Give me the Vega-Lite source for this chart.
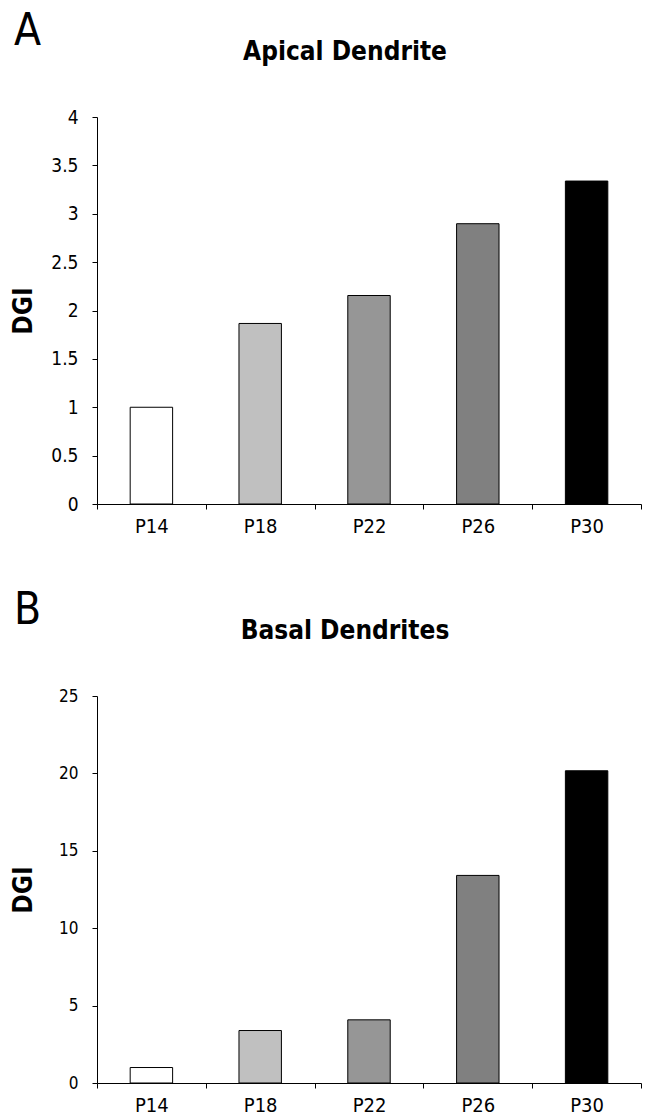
{
  "$schema": "https://vega.github.io/schema/vega-lite/v6.json",
  "padding": {"left": 10, "top": 10, "right": 5, "bottom": 0},
  "background": "white",
  "datasets": {
    "apical": [
      {"age": "P14", "dgi": 1.0},
      {"age": "P18", "dgi": 1.866},
      {"age": "P22", "dgi": 2.155},
      {"age": "P26", "dgi": 2.897},
      {"age": "P30", "dgi": 3.338}
    ],
    "basal": [
      {"age": "P14", "dgi": 1.0},
      {"age": "P18", "dgi": 3.39},
      {"age": "P22", "dgi": 4.08},
      {"age": "P26", "dgi": 13.41},
      {"age": "P30", "dgi": 20.17}
    ]
  },
  "config": {
    "font": "DejaVu Sans Condensed, Liberation Sans",
    "view": {"stroke": null},
    "axis": {"domainColor": "black", "tickColor": "black", "labelColor": "black", "titleColor": "black", "grid": false, "domainWidth": 1, "tickWidth": 1},
    "title": {"color": "black"}
  },
  "spacing": 53,
  "vconcat": [
    {
      "title": {"text": "A", "anchor": "start", "frame": "group", "fontSize": 44, "fontWeight": "normal", "baseline": "alphabetic", "offset": 0, "dx": -83, "dy": 50},
      "vconcat": [
        {
          "width": 544,
          "height": 387,
          "title": {"text": "Apical Dendrite", "fontSize": 26, "fontWeight": "bold", "baseline": "alphabetic", "anchor": "middle", "offset": 22, "dx": -24},
          "data": {"name": "apical"},
          "mark": {"type": "bar", "stroke": "black", "strokeWidth": 1, "width": {"band": 0.39}},
          "encoding": {
            "x": {"field": "age", "type": "nominal", "sort": null, "bandPosition": 0.45,
              "scale": {"paddingInner": 0, "paddingOuter": 0},
              "axis": {"title": null, "labelAngle": 0, "tickBand": "extent", "labelFontSize": 20, "tickSize": 5, "labelPadding": 7}},
            "y": {"field": "dgi", "type": "quantitative",
              "scale": {"domain": [0, 4], "nice": false},
              "axis": {"title": "DGI", "values": [0, 0.5, 1, 1.5, 2, 2.5, 3, 3.5, 4], "format": "~f", "labelFontSize": 19, "tickSize": 5, "labelPadding": 14, "titleFontSize": 26, "titleFontWeight": "bold", "titlePadding": 14}},
            "fill": {"field": "age", "type": "nominal", "sort": null,
              "scale": {"range": ["#ffffff", "#c0c0c0", "#969696", "#808080", "#000000"]}, "legend": null}
          }
        }
      ]
    },
    {
      "title": {"text": "B", "anchor": "start", "frame": "group", "fontSize": 44, "fontWeight": "normal", "baseline": "alphabetic", "offset": 0, "dx": -83, "dy": 50},
      "vconcat": [
        {
          "width": 544,
          "height": 387,
          "title": {"text": "Basal Dendrites", "fontSize": 26, "fontWeight": "bold", "baseline": "alphabetic", "anchor": "middle", "offset": 22, "dx": -24},
          "data": {"name": "basal"},
          "mark": {"type": "bar", "stroke": "black", "strokeWidth": 1, "width": {"band": 0.39}},
          "encoding": {
            "x": {"field": "age", "type": "nominal", "sort": null, "bandPosition": 0.45,
              "scale": {"paddingInner": 0, "paddingOuter": 0},
              "axis": {"title": null, "labelAngle": 0, "tickBand": "extent", "labelFontSize": 20, "tickSize": 5, "labelPadding": 7}},
            "y": {"field": "dgi", "type": "quantitative",
              "scale": {"domain": [0, 25], "nice": false},
              "axis": {"title": "DGI", "values": [0, 5, 10, 15, 20, 25], "format": "~f", "labelFontSize": 17, "tickSize": 5, "labelPadding": 14, "titleFontSize": 26, "titleFontWeight": "bold", "titlePadding": 22}},
            "fill": {"field": "age", "type": "nominal", "sort": null,
              "scale": {"range": ["#ffffff", "#c0c0c0", "#969696", "#808080", "#000000"]}, "legend": null}
          }
        }
      ]
    }
  ]
}
